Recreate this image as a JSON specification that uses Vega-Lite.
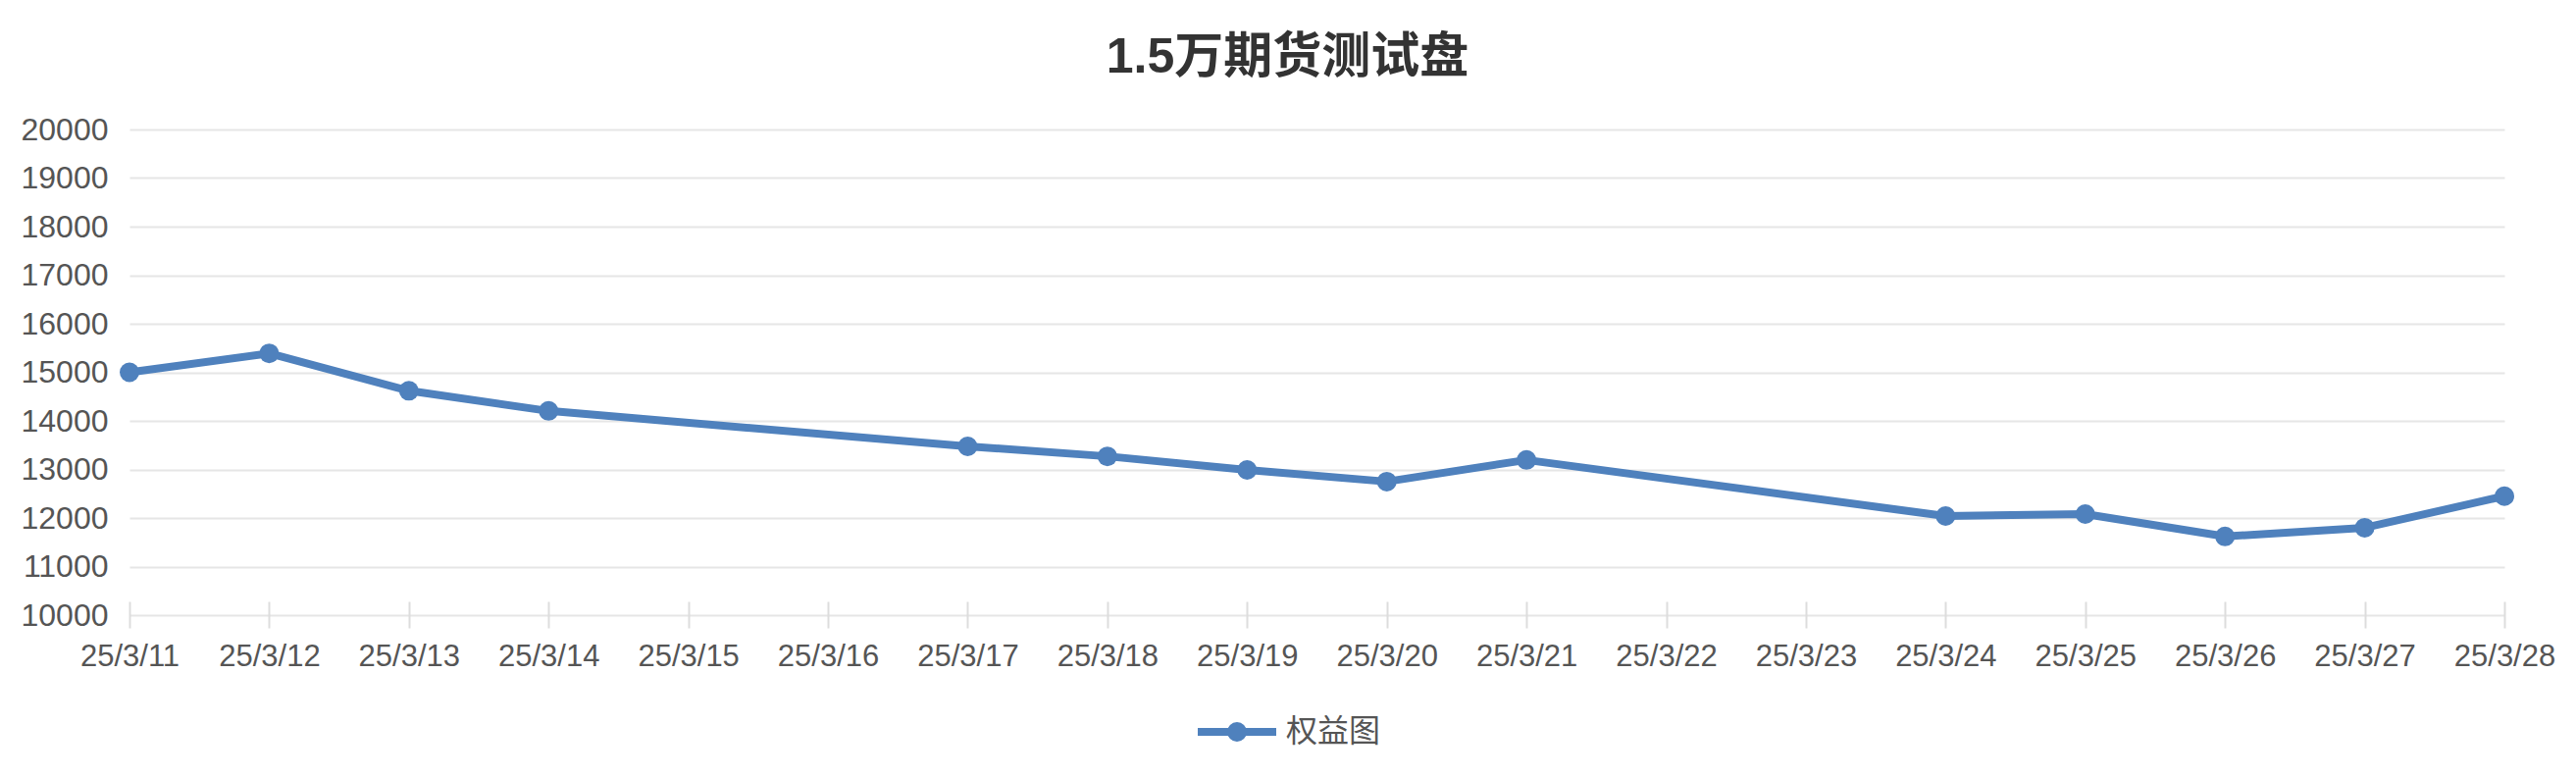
{
  "$schema": "https://vega.github.io/schema/vega-lite/v6.json",
  "autosize": {"type": "none"},
  "width": 2421,
  "height": 495,
  "padding": {"left": 132, "top": 132, "right": 73, "bottom": 165},
  "background": "white",
  "title": {
    "text": "1.5万期货测试盘",
    "font": "Liberation Sans, Noto Sans CJK SC",
    "fontSize": 50,
    "fontWeight": "bold",
    "color": "#333333",
    "anchor": "middle",
    "dx": -30,
    "offset": 32
  },
  "data": {
    "values": [
      {"date": "25/3/11", "equity": 15000, "series": "权益图"},
      {"date": "25/3/12", "equity": 15390, "series": "权益图"},
      {"date": "25/3/13", "equity": 14620, "series": "权益图"},
      {"date": "25/3/14", "equity": 14205, "series": "权益图"},
      {"date": "25/3/17", "equity": 13475, "series": "权益图"},
      {"date": "25/3/18", "equity": 13270, "series": "权益图"},
      {"date": "25/3/19", "equity": 12990, "series": "权益图"},
      {"date": "25/3/20", "equity": 12750, "series": "权益图"},
      {"date": "25/3/21", "equity": 13195, "series": "权益图"},
      {"date": "25/3/24", "equity": 12040, "series": "权益图"},
      {"date": "25/3/25", "equity": 12080, "series": "权益图"},
      {"date": "25/3/26", "equity": 11620, "series": "权益图"},
      {"date": "25/3/27", "equity": 11800, "series": "权益图"},
      {"date": "25/3/28", "equity": 12450, "series": "权益图"}
    ]
  },
  "encoding": {
    "x": {
      "field": "date",
      "type": "ordinal",
      "sort": null,
      "scale": {
        "type": "point",
        "padding": 0,
        "domain": ["25/3/11", "25/3/12", "25/3/13", "25/3/14", "25/3/15", "25/3/16", "25/3/17", "25/3/18", "25/3/19", "25/3/20", "25/3/21", "25/3/22", "25/3/23", "25/3/24", "25/3/25", "25/3/26", "25/3/27", "25/3/28"]
      },
      "axis": {
        "title": null,
        "labelAngle": 0,
        "labelFont": "Liberation Sans",
        "labelFontSize": 31,
        "labelColor": "#555555",
        "labelPadding": 14,
        "labelOverlap": false,
        "domain": false,
        "ticks": true,
        "tickSize": 27,
        "tickColor": "#dddddd",
        "tickWidth": 2,
        "offset": -14,
        "grid": false
      }
    },
    "y": {
      "field": "equity",
      "type": "quantitative",
      "scale": {"domain": [10000, 20000], "nice": false, "zero": false},
      "axis": {
        "title": null,
        "values": [10000, 11000, 12000, 13000, 14000, 15000, 16000, 17000, 18000, 19000, 20000],
        "format": "d",
        "labelFont": "Liberation Sans",
        "labelFontSize": 32,
        "labelColor": "#555555",
        "labelPadding": 22,
        "labelOverlap": false,
        "domain": false,
        "ticks": false,
        "grid": true,
        "gridColor": "#e6e6e6",
        "gridWidth": 2
      }
    },
    "color": {
      "field": "series",
      "type": "nominal",
      "scale": {"range": ["#4f81bd"]},
      "legend": {
        "title": null,
        "orient": "none",
        "legendX": 1085,
        "legendY": 570,
        "labelFont": "Noto Sans CJK SC",
        "labelFontSize": 32,
        "labelColor": "#555555",
        "symbolType": "M -1 0 L 1 0 M 0.15 0 A 0.15 0.15 0 1 1 -0.15 0 A 0.15 0.15 0 1 1 0.15 0",
        "symbolSize": 6400,
        "symbolStrokeWidth": 8,
        "symbolFillColor": "#4f81bd",
        "symbolStrokeColor": "#4f81bd",
        "symbolOpacity": 1,
        "labelOffset": 6
      }
    }
  },
  "layer": [
    {
      "mark": {"type": "line", "strokeWidth": 8, "strokeCap": "round", "strokeJoin": "round"}
    },
    {
      "mark": {"type": "point", "filled": true, "size": 400, "opacity": 1}
    }
  ],
  "config": {
    "view": {"stroke": null},
    "font": "Liberation Sans"
  }
}
